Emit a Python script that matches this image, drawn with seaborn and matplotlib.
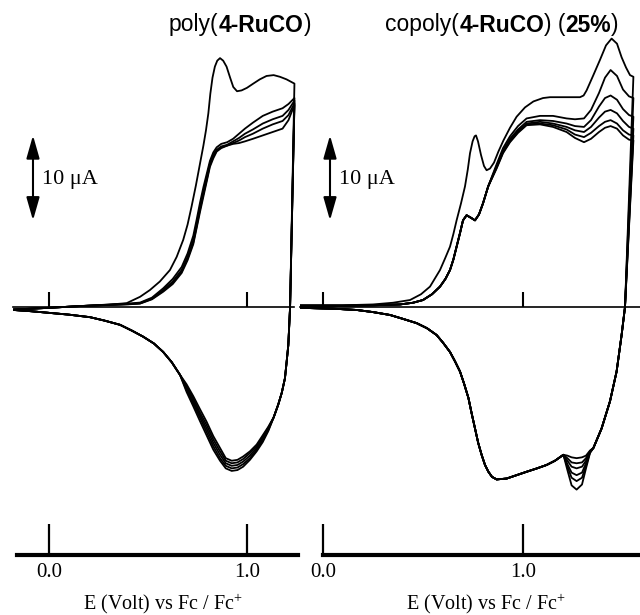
import numpy as np
import pandas as pd
import seaborn as sns
import matplotlib.pyplot as plt
from matplotlib.offsetbox import TextArea, HPacker, AnnotationBbox

sns.set_theme(style='white')
plt.rcParams['font.family'] = ['Liberation Serif', 'DejaVu Serif']
plt.rcParams['mathtext.fontset'] = 'custom'
plt.rcParams['mathtext.rm'] = 'Liberation Serif'
plt.rcParams['mathtext.it'] = 'Liberation Serif:italic'
plt.rcParams['mathtext.bf'] = 'Liberation Serif:bold'

# ---------------- poly(4-RuCO): potential (V vs Fc/Fc+) and current (uA)
E_ox_L1 = [-0.18, 0.00, 0.15, 0.27, 0.34, 0.392, 0.46, 0.51, 0.56, 0.611, 0.645, 0.678, 0.70, 0.72,
           0.742, 0.763, 0.78, 0.793, 0.805, 0.815, 0.826, 0.838, 0.85, 0.864, 0.88, 0.897, 0.915,
           0.931, 0.95, 0.973, 1.00, 1.032, 1.065, 1.099, 1.135, 1.167, 1.20, 1.24]
I_ox_L1 = [-0.3, -0.1, 0.1, 0.25, 0.35, 0.45, 1.2, 2.0, 3.0, 4.35, 5.9, 7.9, 9.7, 11.8, 14.3, 16.9,
           19.0, 20.8, 22.8, 25.1, 27.0, 28.3, 29.0, 29.3, 29.0, 28.3, 27.0, 25.9, 25.4, 25.5, 25.8,
           26.3, 26.8, 27.2, 27.3, 27.1, 26.8, 26.3]

E_ox_L = [-0.18, 0.00, 0.15, 0.30, 0.40, 0.46, 0.52, 0.577, 0.625, 0.67, 0.70, 0.729, 0.746, 0.763,
          0.78, 0.797, 0.813, 0.83, 0.847, 0.87, 0.90, 0.93, 0.96, 0.99, 1.03, 1.08, 1.13, 1.18,
          1.21, 1.24]
I_ox_L2 = [-0.3, -0.1, 0.1, 0.27, 0.4, 0.52, 1.1, 2.2, 3.3, 4.7, 6.3, 8.4, 10.3, 12.3, 14.1, 15.7,
           17.2, 18.2, 18.8, 19.2, 19.4, 19.8, 20.4, 21.0, 21.7, 22.5, 23.0, 23.4, 23.9, 24.6]
I_ox_L3 = [-0.3, -0.1, 0.1, 0.25, 0.35, 0.45, 1.0, 2.0, 3.0, 4.35, 5.9, 7.9, 9.8, 11.8, 13.6, 15.3,
           16.9, 17.9, 18.5, 18.9, 19.1, 19.5, 19.9, 20.4, 20.9, 21.6, 22.1, 22.5, 23.2, 24.3]
I_ox_L4 = [-0.3, -0.1, 0.1, 0.24, 0.33, 0.42, 0.95, 1.9, 2.85, 4.15, 5.7, 7.6, 9.5, 11.5, 13.3, 15.0,
           16.7, 17.7, 18.4, 18.8, 19.0, 19.3, 19.6, 20.0, 20.4, 21.0, 21.5, 21.9, 22.6, 24.0]
I_ox_L5 = [-0.3, -0.1, 0.1, 0.23, 0.31, 0.4, 0.9, 1.8, 2.7, 4.0, 5.5, 7.4, 9.3, 11.2, 13.0, 14.8,
           16.5, 17.5, 18.3, 18.7, 19.0, 19.2, 19.3, 19.5, 19.8, 20.2, 20.6, 21.0, 22.0, 23.8]

E_red_L = [1.24, 1.218, 1.209, 1.200, 1.192, 1.176, 1.158, 1.135, 1.108, 1.080, 1.049, 1.015, 0.981,
           0.952, 0.923, 0.893, 0.864, 0.830, 0.796, 0.762, 0.729, 0.695, 0.662, 0.620, 0.577,
           0.530, 0.476, 0.420, 0.359, 0.280, 0.207, 0.100, 0.005, -0.090, -0.180]
red_head_L = [0.0, -4.5, -6.6, -8.4, -10.1, -11.5, -13.0]
red_peak_L1 = [-14.6, -15.9, -17.0, -18.0, -18.8, -19.2, -19.3, -19.0, -18.1, -16.8, -15.1, -13.4, -11.7, -10.0]
red_peak_L2 = [-14.5, -15.7, -16.8, -17.8, -18.5, -18.9, -19.0, -18.7, -17.8, -16.4, -14.7, -13.0, -11.4, -9.8]
red_peak_L3 = [-14.3, -15.5, -16.6, -17.5, -18.2, -18.6, -18.7, -18.4, -17.4, -16.0, -14.3, -12.7, -11.1, -9.5]
red_peak_L4 = [-14.2, -15.3, -16.4, -17.2, -17.9, -18.3, -18.4, -18.1, -17.0, -15.6, -13.9, -12.4, -10.8, -9.3]
red_peak_L5 = [-14.1, -15.1, -16.2, -17.0, -17.6, -18.0, -18.1, -17.8, -16.6, -15.2, -13.5, -12.0, -10.5, -9.1]
red_tail_L = [-8.0, -6.5, -5.3, -4.3, -3.5, -2.8, -2.1, -1.6, -1.2, -0.9, -0.7, -0.5, -0.35]

# ---------------- copoly(4-RuCO) (25%)
E_ox_R1 = [-0.115, 0.10, 0.25, 0.35, 0.435, 0.49, 0.535, 0.585, 0.61, 0.635, 0.652, 0.668, 0.69,
           0.71, 0.724, 0.735, 0.748, 0.758, 0.765, 0.775, 0.79, 0.805, 0.818, 0.835, 0.855, 0.877,
           0.902, 0.935, 0.968, 1.01, 1.052, 1.10, 1.135, 1.20, 1.25, 1.285, 1.303, 1.318, 1.35,
           1.385, 1.415, 1.443, 1.47, 1.493, 1.515, 1.535, 1.552]
I_ox_R1 = [0.2, 0.2, 0.3, 0.5, 0.82, 1.5, 2.4, 4.35, 5.7, 7.1, 8.6, 10.2, 12.2, 14.2, 16.2, 18.1,
           19.5, 20.1, 20.2, 19.5, 17.9, 16.6, 16.1, 16.3, 17.0, 18.3, 19.6, 21.1, 22.4, 23.5, 24.2,
           24.6, 24.7, 24.7, 24.7, 24.7, 24.9, 25.5, 27.2, 29.1, 30.8, 31.6, 31.0, 29.4, 28.2, 27.3, 27.1]

E_ox_R = [-0.115, 0.10, 0.25, 0.385, 0.45, 0.50, 0.545, 0.585, 0.612, 0.635, 0.652, 0.668, 0.685,
          0.70, 0.718, 0.74, 0.76, 0.78, 0.80, 0.826, 0.868, 0.90, 0.935, 0.975, 1.018, 1.085,
          1.15, 1.218, 1.26, 1.305, 1.34, 1.38, 1.41, 1.438, 1.47, 1.50, 1.53, 1.552]
ox_rise_R = [0.15, 0.15, 0.2, 0.3, 0.5, 0.82, 1.5, 2.4, 3.3, 4.35, 5.6, 7.1, 8.7, 10.2, 10.8, 10.5,
             10.2, 10.9, 12.2, 14.2]
ox_top_R2 = [16.8, 18.7, 20.1, 21.3, 22.2, 22.5, 22.5, 22.2, 22.1, 22.2, 23.2, 25.2, 27.0, 27.9, 27.2, 25.6, 24.8, 24.6]
ox_top_R3 = [16.6, 18.4, 19.8, 20.9, 21.8, 22.0, 21.9, 21.6, 21.3, 21.2, 22.0, 23.6, 24.6, 24.9, 24.4, 23.3, 22.6, 22.4]
ox_top_R4 = [16.5, 18.3, 19.6, 20.7, 21.6, 21.8, 21.6, 21.2, 20.8, 20.6, 21.2, 22.3, 23.0, 23.2, 22.8, 21.9, 21.2, 21.0]
ox_top_R5 = [16.4, 18.2, 19.5, 20.6, 21.5, 21.6, 21.4, 20.9, 20.3, 20.0, 20.5, 21.3, 21.8, 22.0, 21.6, 20.8, 20.3, 20.2]
ox_top_R6 = [16.3, 18.1, 19.4, 20.5, 21.4, 21.5, 21.2, 20.6, 19.9, 19.4, 19.8, 20.6, 21.1, 21.3, 21.0, 20.2, 19.7, 19.6]

E_red_R = [1.552, 1.51, 1.493, 1.468, 1.435, 1.393, 1.352, 1.335, 1.315, 1.295, 1.268, 1.243,
           1.222, 1.202, 1.16, 1.118, 1.07, 1.018, 0.968, 0.918, 0.868, 0.845, 0.827, 0.81, 0.793,
           0.776, 0.76, 0.743, 0.727, 0.705, 0.685, 0.66, 0.635, 0.60, 0.568, 0.52, 0.468, 0.40,
           0.335, 0.25, 0.168, 0.05, -0.115]
red_head_R = [0.0, -3.3, -7.6, -11.1, -14.3, -16.6]
red_dip_R1 = [-17.2, -19.0, -20.9, -21.5, -21.0, -19.2]
red_dip_R2 = [-17.1, -18.7, -20.1, -20.5, -20.1, -18.8]
red_dip_R3 = [-17.1, -18.4, -19.5, -19.8, -19.5, -18.5]
red_dip_R4 = [-17.0, -18.1, -18.8, -19.0, -18.8, -18.1]
red_dip_R5 = [-17.0, -17.8, -18.3, -18.4, -18.3, -17.8]
red_dip_R6 = [-16.9, -17.5, -17.7, -17.8, -17.7, -17.5]
red_tail_R = [-17.4, -18.1, -18.6, -19.0, -19.4, -19.8, -20.2, -20.3, -20.0, -19.4, -18.6, -17.4,
              -16.0, -14.3, -12.5, -10.7, -9.0, -7.6, -6.4, -5.3, -4.2, -3.3, -2.5, -1.9, -1.4,
              -0.94, -0.6, -0.35, -0.2, -0.1]

tick_pos = [0.0, 1.0]
tick_labels = ['0.0', '1.0']
xlabel = 'E (Volt) vs Fc / Fc$^{+}$'
scale_label = '10 \u03bcA'
title_left = [('poly(', False), ('4-RuCO', True), (')', False)]
title_right = [('copoly(', False), ('4-RuCO', True), (') (', False), ('25%', True), (')', False)]


def cycle(panel, scan, E_ox, I_ox, E_red, I_red):
    return pd.DataFrame({'E': E_ox + E_red, 'I': I_ox + I_red, 'scan': scan, 'panel': panel})


cv = pd.concat([
    cycle('L', 1, E_ox_L1, I_ox_L1, E_red_L, [I_ox_L1[-1]] + red_head_L + red_peak_L1 + red_tail_L),
    cycle('L', 2, E_ox_L, I_ox_L2, E_red_L, [I_ox_L2[-1]] + red_head_L + red_peak_L2 + red_tail_L),
    cycle('L', 3, E_ox_L, I_ox_L3, E_red_L, [I_ox_L3[-1]] + red_head_L + red_peak_L3 + red_tail_L),
    cycle('L', 4, E_ox_L, I_ox_L4, E_red_L, [I_ox_L4[-1]] + red_head_L + red_peak_L4 + red_tail_L),
    cycle('L', 5, E_ox_L, I_ox_L5, E_red_L, [I_ox_L5[-1]] + red_head_L + red_peak_L5 + red_tail_L),
    cycle('R', 1, E_ox_R1, I_ox_R1, E_red_R, [I_ox_R1[-1]] + red_head_R + red_dip_R1 + red_tail_R),
    cycle('R', 2, E_ox_R, ox_rise_R + ox_top_R2, E_red_R, [ox_top_R2[-1]] + red_head_R + red_dip_R2 + red_tail_R),
    cycle('R', 3, E_ox_R, ox_rise_R + ox_top_R3, E_red_R, [ox_top_R3[-1]] + red_head_R + red_dip_R3 + red_tail_R),
    cycle('R', 4, E_ox_R, ox_rise_R + ox_top_R4, E_red_R, [ox_top_R4[-1]] + red_head_R + red_dip_R4 + red_tail_R),
    cycle('R', 5, E_ox_R, ox_rise_R + ox_top_R5, E_red_R, [ox_top_R5[-1]] + red_head_R + red_dip_R5 + red_tail_R),
    cycle('R', 6, E_ox_R, ox_rise_R + ox_top_R6, E_red_R, [ox_top_R6[-1]] + red_head_R + red_dip_R6 + red_tail_R),
], ignore_index=True)

Y_LO, Y_HI = -29.2, 33.2

fig = plt.figure(figsize=(6.4, 6.15), dpi=100)
ax_l = fig.add_axes([13 / 640, 60 / 615, 285 / 640, 530 / 615])
ax_r = fig.add_axes([300 / 640, 60 / 615, 340 / 640, 530 / 615])

panels = [
    # ax, key, xlim, bottom spine start, zero line end, scale bar x, label x
    (ax_l, 'L', (-0.182, 1.258), -0.162, 1.24, -0.081, 0.526),
    (ax_r, 'R', (-0.115, 1.585), 0.0, 1.585, 0.035, 0.547),
]

for ax, key, xlim, spine_lo, zero_hi, bar_x, lab_x in panels:
    sns.lineplot(data=cv[cv.panel == key], x='E', y='I', units='scan', estimator=None,
                 sort=False, color='black', lw=1.3, ax=ax)
    ax.set_xlim(*xlim)
    ax.set_ylim(Y_LO, Y_HI)
    ax.patch.set_visible(False)
    for s in ['left', 'right', 'top']:
        ax.spines[s].set_visible(False)
    ax.spines['bottom'].set_linewidth(3)
    ax.spines['bottom'].set_color('black')
    ax.spines['bottom'].set_bounds(spine_lo, xlim[1])
    ax.set_yticks([])
    ax.set_ylabel('')
    ax.set_xticks(tick_pos, labels=tick_labels)
    ax.tick_params(axis='x', bottom=True, direction='in', length=22, width=1.6, pad=6,
                   labelsize=15, colors='black')
    ax.set_xlabel(xlabel, fontsize=14.5, color='black')
    ax.xaxis.set_label_coords(lab_x, -0.07)

    # zero-current line with its small ticks
    zero_frac = (0 - Y_LO) / (Y_HI - Y_LO)
    sec = ax.secondary_xaxis(zero_frac)
    sec.set_xticks(tick_pos)
    sec.tick_params(axis='x', bottom=True, top=False, labelbottom=False, labeltop=False,
                    direction='in', length=11, width=1.5, colors='black')
    sec.spines['bottom'].set_bounds(xlim[0], zero_hi)
    sec.spines['bottom'].set_linewidth(1.2)
    sec.spines['bottom'].set_color('black')

    # 10 uA scale bar
    ax.annotate('', xy=(bar_x, 20.2), xytext=(bar_x, 10.2),
                arrowprops=dict(arrowstyle='<|-|>,head_length=1.4,head_width=0.4', mutation_scale=10,
                                lw=1.5, color='black', shrinkA=0, shrinkB=0))
    ax.text(bar_x + 0.045, 15.0, scale_label, fontsize=16, va='center', ha='left', color='black')


def title_box(parts):
    boxes = [TextArea(t, textprops=dict(family='Liberation Sans', size=16.5, color='black',
                                        weight='bold' if b else 'normal')) for t, b in parts]
    return HPacker(children=boxes, align='baseline', pad=0, sep=0)


for parts, xc in [(title_left, 240 / 640), (title_right, 502 / 640)]:
    ab = AnnotationBbox(title_box(parts), (xc, 1 - 25 / 615), xycoords='figure fraction',
                        frameon=False, box_alignment=(0.5, 0.5))
    fig.add_artist(ab)

fig.savefig('out.png', dpi=100)
